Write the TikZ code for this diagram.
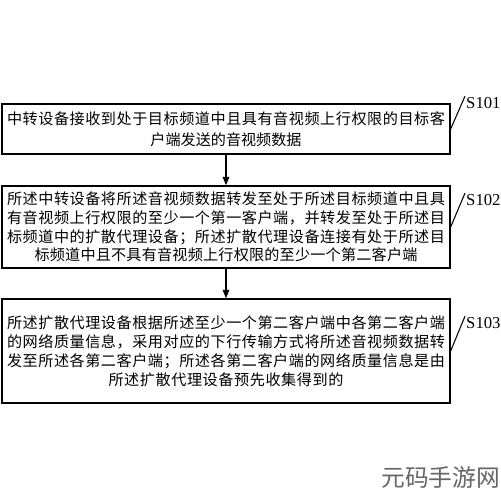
\documentclass[tikz,border=0pt]{standalone}
\usepackage{fontspec}
\setmainfont{Liberation Serif}
\newfontfamily\cjk{Noto Sans CJK SC}
\usetikzlibrary{arrows.meta}

% spread the characters of one line over a given width
\newlength\linew
\setlength\linew{8.76cm}
\def\gobbleone#1{}
\def\spreadgo#1#2{#1\ifx#2\relax\expandafter\gobbleone\else\hfil\expandafter\spreadgo\fi#2}
\newcommand\spreadln[2][\linew]{\makebox[#1][s]{\spreadgo#2\relax}}

\begin{document}
\begin{tikzpicture}[
    x=0.02cm, y=-0.02cm,
    stepbox/.style={rectangle, draw, thick, text width=\linew, align=center,
        inner xsep=0.1cm, inner ysep=0pt},
    tag/.style={anchor=west, inner sep=0.5pt, font=\fontsize{9.5pt}{10pt}\selectfont},
    leader/.style={semithick},
    arrow/.style={-{Triangle[length=1.7mm,width=1.3mm]}, thick}
]
\useasboundingbox[fill=white] (0,0) rectangle (500,500);

% Steps
\node[stepbox, minimum height=1cm, font=\cjk\fontsize{8.6pt}{12pt}\selectfont] (b1) at (226,129)
    {\spreadln{中转设备接收到处于目标频道中且具有音视频上行权限的目标客}\\
     户端发送的音视频数据};
\node[stepbox, minimum height=1.64cm, font=\cjk\fontsize{8.6pt}{10.6pt}\selectfont] (b2) at (226,227)
    {\spreadln{所述中转设备将所述音视频数据转发至处于所述目标频道中且具}\\
     \spreadln{有音视频上行权限的至少一个第一客户端，并转发至处于所述目}\\
     \spreadln{标频道中的扩散代理设备；所述扩散代理设备连接有处于所述目}\\
     \spreadln[7.66cm]{标频道中且不具有音视频上行权限的至少一个第二客户端}};
\node[stepbox, minimum height=2.08cm, font=\cjk\fontsize{8.6pt}{10.9pt}\selectfont] (b3) at (226,351)
    {\spreadln{所述扩散代理设备根据所述至少一个第二客户端中各第二客户端}\\
     \spreadln{的网络质量信息，采用对应的下行传输方式将所述音视频数据转}\\
     \spreadln{发至所述各第二客户端；所述各第二客户端的网络质量信息是由}\\
     \spreadln[4.7cm]{所述扩散代理设备预先收集得到的}};

% Step numbers
\node[tag] (s1) at (465,103) {S101};
\node[tag] (s2) at (465,200) {S102};
\node[tag] (s3) at (465,323) {S103};
\draw[leader] (b1.east) -- (s1.north west);
\draw[leader] (b2.east) -- (s2.north west);
\draw[leader] (b3.east) -- (s3.north west);

% Arrows
\draw[arrow] (b1) -- (b2);
\draw[arrow] (b2) -- (b3);

% Watermark
\node[anchor=west, inner sep=0pt, text=black!60, font=\cjk\fontsize{13.5pt}{14pt}\selectfont] (mark) at (381,477) {元码手游网};
\end{tikzpicture}
\end{document}
